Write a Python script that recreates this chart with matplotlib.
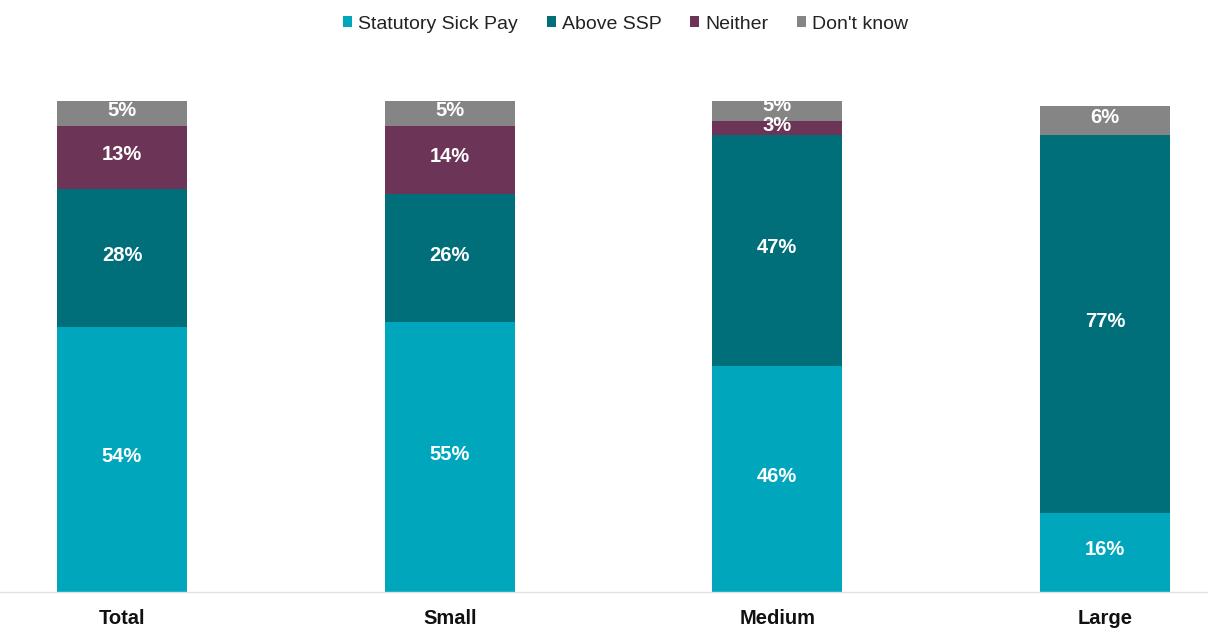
import matplotlib.pyplot as plt
from matplotlib.patches import Patch

categories = ["Total", "Small", "Medium", "Large"]
series_names = ["Statutory Sick Pay", "Above SSP", "Neither", "Don't know"]
ssp = [54, 55, 46, 16]
above_ssp = [28, 26, 47, 77]
neither = [13, 14, 3, 0]
dont_know = [5, 5, 5, 6]

COLORS = ["#00A7BC", "#006F79", "#6C3557", "#858585"]

plt.rcParams["font.family"] = ["Liberation Sans", "DejaVu Sans"]

fig = plt.figure(figsize=(12.08, 6.32), dpi=100)
ax = fig.add_axes([0.0, 40 / 632, 1.0, 491 / 632])

x = list(range(len(categories)))
width = 0.397
bottoms = [0] * len(categories)

for values, color in zip([ssp, above_ssp, neither, dont_know], COLORS):
    ax.bar(x, values, width=width, bottom=bottoms, color=color, linewidth=0, zorder=2)
    for xi, b, v in zip(x, bottoms, values):
        if v > 0:
            ax.text(xi, b + v / 2 + 0.6, f"{v}%", ha="center", va="center",
                    color="white", fontsize=14.5, fontweight="bold", zorder=3)
    bottoms = [b + v for b, v in zip(bottoms, values)]

px_per_unit = 327.67
ax.set_xlim(-122 / px_per_unit, (1208 - 122) / px_per_unit)
ax.set_ylim(0, 100)

for side in ["top", "right", "left"]:
    ax.spines[side].set_visible(False)
ax.spines["bottom"].set_color("#E2E2E2")
ax.spines["bottom"].set_linewidth(1)
ax.set_yticks([])
ax.set_xticks(x)
ax.set_xticklabels(categories, fontsize=14.5, fontweight="bold", color="#111111")
ax.tick_params(axis="x", length=0, pad=12)

handles = [Patch(facecolor=c, edgecolor="none", label=n) for c, n in zip(COLORS, series_names)]
fig.legend(handles=handles, loc="center", bbox_to_anchor=(0.518, 0.962), ncol=4,
           frameon=False, fontsize=14, handlelength=0.45, handleheight=0.45,
           handletextpad=0.3, columnspacing=1.5, labelcolor="#222222")

fig.savefig("out.png", dpi=100)
